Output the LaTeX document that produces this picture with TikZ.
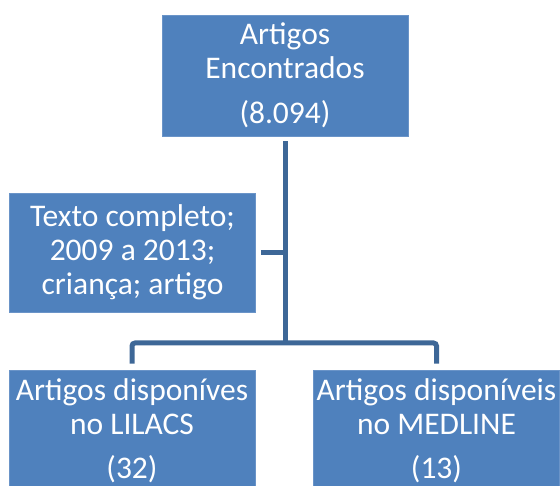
\documentclass[tikz,border=0pt]{standalone}
\usepackage{fontspec}
\setmainfont{Carlito}
\usepackage{tikz}
\usepackage{xcolor}
\usetikzlibrary{calc}
\usetikzlibrary{positioning}

\definecolor{boxfill}{HTML}{4F81BD}
\definecolor{boxedge}{HTML}{6A94C8}
\definecolor{linkblue}{HTML}{3D6797}

\tikzset{
  box/.style={fill=boxfill, draw=boxedge, line width=0.6pt, text=white,
    align=center, minimum width=246pt, inner xsep=0pt, inner ysep=0pt,
    font=\fontsize{31.5}{34}\selectfont},
  link/.style={draw=linkblue, line width=5pt, rounded corners=3pt}
}

\begin{document}
\begin{tikzpicture}[x=1pt,y=-1pt]
\useasboundingbox (0,0) rectangle (560,486);

\node[box, minimum height=121pt] (top) at (285,75.5) {Artigos\\Encontrados\\[11pt](8.094)};
\node[box, minimum height=119pt] (filtro) at (132.5,252.5) {Texto completo;\\2009 a 2013;\\criança; artigo};
\node[box, minimum height=121pt] (lilacs) at (132,430.5) {Artigos disponíves\\no LILACS\\[10pt](32)};
\node[box, minimum height=121pt] (medline) at (436.5,430.5) {Artigos disponíveis\\no MEDLINE\\[10pt](13)};

\coordinate (split) at (285,343);

\draw[link] ([yshift=-5pt]top.south) -- (split);
\draw[link] ([yshift=6pt]lilacs.north) |- (split) -| ([yshift=6pt]medline.north);
\draw[link] ([xshift=5pt]filtro.east) -- (filtro.east -| split);
\end{tikzpicture}
\end{document}
